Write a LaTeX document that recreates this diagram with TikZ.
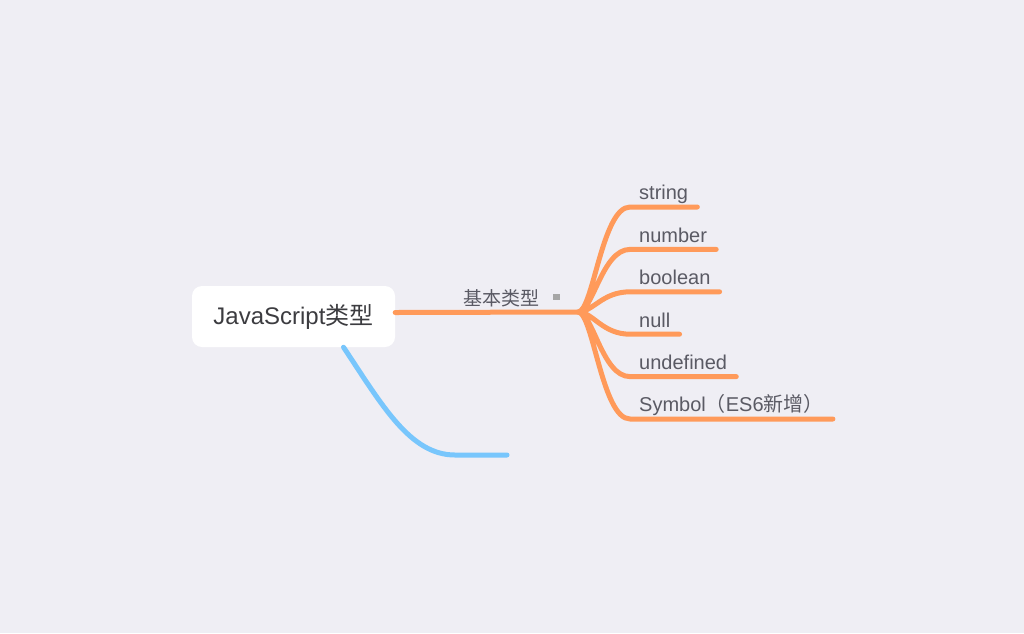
\documentclass[tikz,border=0pt]{standalone}
\usepackage{fontspec}
\setmainfont{Liberation Sans}
\newfontfamily\cjk{Noto Sans CJK SC}
\usetikzlibrary{positioning}

\definecolor{canvas}{HTML}{EFEEF4}
\definecolor{branchorange}{HTML}{FF9A5A}
\definecolor{branchblue}{HTML}{78C6FC}
\definecolor{leafgray}{HTML}{5A5A64}
\definecolor{rootgray}{HTML}{3C3C40}

\tikzset{
    rootbox/.style={fill=white, rounded corners=10pt, minimum width=203pt, minimum height=61pt,
        text=rootgray, font=\fontsize{24}{28}\selectfont},
    typelabel/.style={inner sep=0pt, text=leafgray, font=\cjk\fontsize{19}{22}\selectfont},
    noteicon/.style={fill=black!35, inner sep=0pt, minimum width=7pt, minimum height=6pt},
    leaf/.style={inner xsep=9pt, inner ysep=7pt, text height=14pt, text depth=0pt,
        text=leafgray, font=\fontsize{20}{24}\selectfont},
    orangeline/.style={draw=branchorange, line width=5pt, line cap=round, line join=round},
    blueline/.style={draw=branchblue, line width=5pt, line cap=round},
}

\begin{document}
\begin{tikzpicture}[x=1pt, y=-1pt]
    \fill[canvas] (0,0) rectangle (1024,633);

    \node[rootbox] (root) at (293.5,316.5) {JavaScript{\cjk 类型}};
    \coordinate (fork) at (578,312);
    \node[typelabel, above left=5pt and 38pt of fork, anchor=south east] (basic) {基本类型};
    \node[noteicon, right=13pt of basic.east, yshift=1pt] (note) {};

    \node[leaf, anchor=south west] (string) at (630,207) {string};
    \node[leaf, below=14pt of string.south west, anchor=north west] (number) {number};
    \node[leaf, below=14pt of number.south west, anchor=north west] (boolean) {boolean};
    \node[leaf, below=14pt of boolean.south west, anchor=north west] (null) {null};
    \node[leaf, below=14pt of null.south west, anchor=north west] (undefined) {undefined};
    \node[leaf, below=14pt of undefined.south west, anchor=north west] (symbol) {Symbol{\cjk （}ES6{\cjk 新增）}};

    \coordinate (bluetip) at (507,455);

    \draw[orangeline] ([yshift=4pt]root.east) -- (fork);
    \draw[orangeline]
        (fork) .. controls +(15,0) and +(-28,0) .. (string.south west) -- (string.south east)
        (fork) .. controls +(15,0) and +(-28,0) .. (number.south west) -- (number.south east)
        (fork) .. controls +(15,0) and +(-28,0) .. (boolean.south west) -- (boolean.south east)
        (fork) .. controls +(15,0) and +(-28,0) .. (null.south west) -- (null.south east)
        (fork) .. controls +(15,0) and +(-28,0) .. (undefined.south west) -- (undefined.south east)
        (fork) .. controls +(15,0) and +(-28,0) .. (symbol.south west) -- (symbol.south east);
    \draw[blueline] ([xshift=50pt]root.south) .. controls (382,405) and (410,455) .. (455,455) -- (bluetip);
\end{tikzpicture}
\end{document}
